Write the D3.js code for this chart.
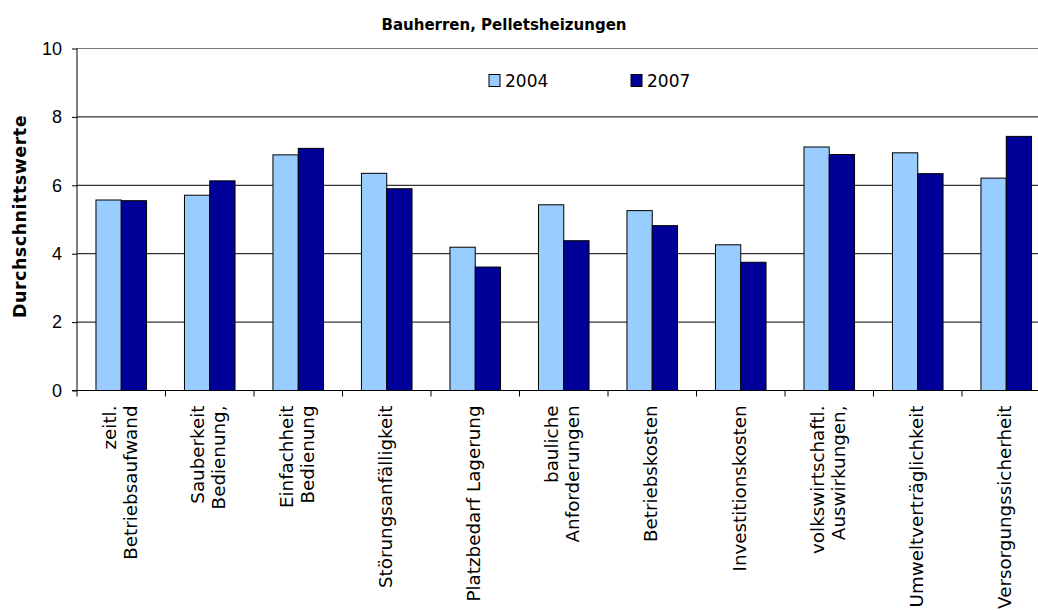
<html>
  <head>
    <meta charset="utf-8">
    <style>
      body { margin: 0; background: #fff; }
      svg { display: block; font-family: "DejaVu Sans", Verdana, sans-serif; }
      .tick text { font-size: 18px; fill: #000; }
    </style>
  </head>
  <body>
    <div id="main"><svg></svg></div>
    <script src="https://d3js.org/d3.v7.min.js"></script>
    <script>
      var categories = [
        ["zeitl.", "Betriebsaufwand"],
        ["Sauberkeit", "Bedienung,"],
        ["Einfachheit", "Bedienung"],
        ["Störungsanfälligkeit"],
        ["Platzbedarf Lagerung"],
        ["bauliche", "Anforderungen"],
        ["Betriebskosten"],
        ["Investitionskosten"],
        ["volkswirtschaftl.", "Auswirkungen,"],
        ["Umweltverträglichkeit"],
        ["Versorgungssicherheit"]
      ];
      var years = ["2004", "2007"];
      var values2004 = [5.57, 5.71, 6.89, 6.35, 4.19, 5.43, 5.26, 4.26, 7.12, 6.95, 6.21];
      var values2007 = [5.55, 6.13, 7.08, 5.90, 3.61, 4.38, 4.82, 3.75, 6.90, 6.34, 7.43];
      var yTicks = [0, 2, 4, 6, 8, 10];
      var colors = ["#99ccff", "#000099"];

      var width = 1038, height = 610;
      // plot area (extends past the right edge, like the original)
      var plotL = 77, plotT = 48.5, plotB = 390.5, plotR = 1050.5;

      var svg = d3.select("#main svg").attr("width", width).attr("height", height);

      var names = categories.map(function(c) { return c.join(" "); });
      var rows = names.map(function(n, i) {
        return { name: n, lines: categories[i], vals: [values2004[i], values2007[i]] };
      });

      var x = d3.scaleBand().domain(names).range([plotL, plotR]).padding(0);
      var x1 = d3.scaleBand().domain(years).range([0, x.bandwidth()]).paddingInner(0).paddingOuter(0.75);
      var y = d3.scaleLinear().domain([0, 10]).range([plotB, plotT]);

      // gridlines
      svg.append("g").selectAll("line")
        .data(yTicks.filter(function(d) { return d > 0; }))
        .enter().append("line")
        .attr("x1", plotL).attr("x2", plotR)
        .attr("y1", function(d) { return y(d); })
        .attr("y2", function(d) { return y(d); })
        .attr("stroke", function(d) { return d == 10 ? "#777" : "#000"; })
        .attr("stroke-width", 1);

      // bars
      var groups = svg.append("g").selectAll("g")
        .data(rows).enter().append("g")
        .attr("transform", function(d) { return "translate(" + x(d.name) + ",0)"; });
      groups.selectAll("rect")
        .data(function(d) { return d.vals.map(function(v, j) { return { year: years[j], v: v, j: j }; }); })
        .enter().append("rect")
        .attr("x", function(d) { return x1(d.year); })
        .attr("width", x1.bandwidth())
        .attr("y", function(d) { return y(d.v); })
        .attr("height", function(d) { return y(0) - y(d.v); })
        .attr("fill", function(d) { return colors[d.j]; })
        .attr("stroke", "#000").attr("stroke-width", 1);

      // y axis
      var yAxis = svg.append("g")
        .attr("transform", "translate(" + plotL + ",0)")
        .call(d3.axisLeft(y).tickValues(yTicks).tickSize(5).tickPadding(10).tickFormat(d3.format("d")));
      yAxis.selectAll("path, line").attr("stroke", "#000");
      yAxis.select(".domain").attr("d", "M0," + y(10) + "V" + y(0));

      // x axis line with ticks at band boundaries
      var xAxis = svg.append("g");
      xAxis.append("line")
        .attr("x1", plotL - 5).attr("x2", plotR)
        .attr("y1", plotB).attr("y2", plotB)
        .attr("stroke", "#000");
      xAxis.selectAll(".xt")
        .data(names.concat(["end"]))
        .enter().append("line")
        .attr("class", "xt")
        .attr("x1", function(d) { return d === "end" ? plotR : x(d); })
        .attr("x2", function(d) { return d === "end" ? plotR : x(d); })
        .attr("y1", plotB).attr("y2", plotB + 6)
        .attr("stroke", "#000");

      // category labels, rotated
      var lineH = 21;
      var labels = svg.append("g").selectAll("text")
        .data(rows).enter().append("text")
        .attr("text-anchor", "end")
        .attr("font-size", 18.3)
        .attr("transform", function(d) {
          return "translate(" + (x(d.name) + x.bandwidth() / 2 + 5) + "," + (plotB + 15) + ") rotate(-90)";
        });
      labels.selectAll("tspan")
        .data(function(d) {
          return d.lines.map(function(t, i) { return { t: t, off: (i - (d.lines.length - 1) / 2) * lineH }; });
        })
        .enter().append("tspan")
        .attr("x", 0)
        .attr("y", function(d) { return d.off; })
        .text(function(d) { return d.t; });

      // y axis title
      svg.append("text")
        .attr("transform", "translate(26," + ((plotT + plotB) / 2 - 3) + ") rotate(-90)")
        .attr("text-anchor", "middle")
        .attr("font-size", 17.5)
        .attr("font-weight", "bold")
        .attr("letter-spacing", 0.5)
        .text("Durchschnittswerte");

      // chart title
      svg.append("text")
        .attr("x", 504).attr("y", 30)
        .attr("text-anchor", "middle")
        .attr("font-size", 15)
        .attr("font-weight", "bold")
        .text("Bauherren, Pelletsheizungen");

      // legend
      var legend = svg.append("g").selectAll("g")
        .data(years).enter().append("g")
        .attr("transform", function(d, i) { return "translate(" + (489 + i * 142) + ",74.5)"; });
      legend.append("rect")
        .attr("width", 11).attr("height", 12)
        .attr("fill", function(d, i) { return colors[i]; })
        .attr("stroke", "#000").attr("stroke-width", 1);
      legend.append("text")
        .attr("x", 16).attr("y", 12.5)
        .attr("font-size", 17)
        .text(function(d) { return d; });
    </script>
  </body>
</html>
